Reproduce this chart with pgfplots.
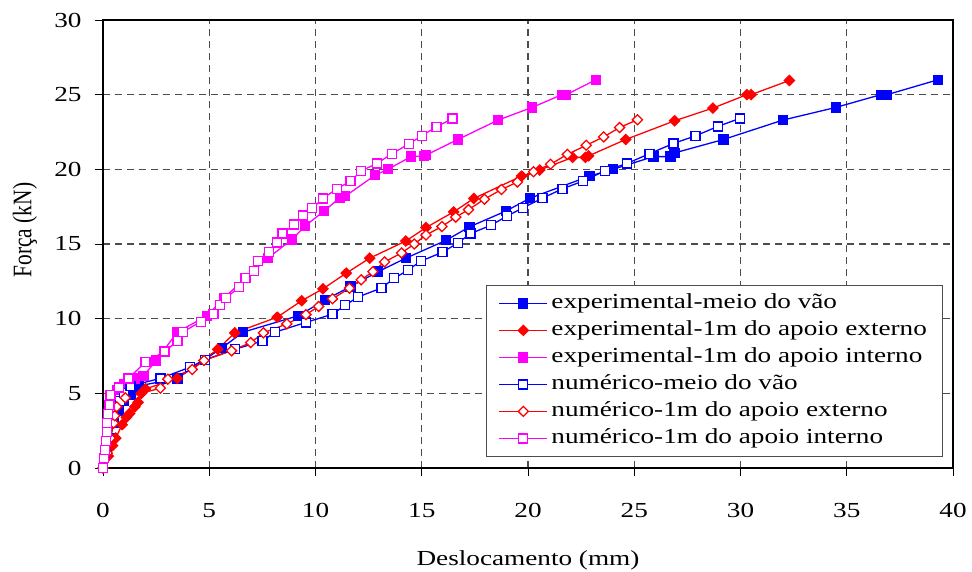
\documentclass[border=0pt]{standalone}
\usepackage{fontspec}
\setmainfont{Liberation Serif}[FakeStretch=1.27]
\newfontfamily\ylabfont{Liberation Serif}
\usepackage{pgfplots}
\pgfplotsset{compat=1.18}
\definecolor{cblue}{RGB}{0,0,255}
\definecolor{cred}{RGB}{255,0,0}
\definecolor{cmag}{RGB}{255,0,255}
\begin{document}
\begin{tikzpicture}
\begin{axis}[
  scale only axis, width=850bp, height=448bp,
  xmin=0, xmax=40, ymin=0, ymax=30,
  xtick={0,5,...,40}, ytick={0,5,...,30},
  /pgf/number format/assume math mode=true,
  tick label style={font=\fontsize{21.5}{25}\selectfont},
  xlabel style={font=\fontsize{21.5}{25}\selectfont},
  ylabel style={font=\ylabfont\fontsize{21.5}{25}\selectfont},
  xticklabel shift=24bp, yticklabel shift=10bp,
  tick align=outside, tick pos=left, major tick length=8bp,
  tick style={black, line width=0.8bp},
  axis line style={black, line width=1.2bp},
  grid=major,
  major grid style={black!70, line width=1.1bp, dash pattern=on 7bp off 5bp},
  xlabel={Deslocamento (mm)}, ylabel={Força (kN)},
  xlabel style={at={([yshift=-92bp]rel axis cs:0.5,0)}, anchor=center},
  ylabel style={at={([xshift=-78bp,yshift=14bp]rel axis cs:0,0.5)}, anchor=center, yscale=1.25},
  legend cell align=left,
  legend style={at={(axis description cs:0.988,0.4085)}, anchor=north east,
    font=\fontsize{21.5}{25}\selectfont, draw=black!70, line width=0.8bp,
    fill=white, inner xsep=12bp, inner ysep=4.5bp,
    nodes={text height=15bp, text depth=5bp, inner sep=3.5bp}},
  legend image code/.code={%
    \draw[mark repeat=2, mark phase=2] plot coordinates {(0bp,0bp) (24bp,0bp) (48bp,0bp)};},
  every axis plot/.append style={line width=1.3bp},
]
% experimental - meio do vao
\addplot[cblue, mark=square*, mark size=4.5bp, mark options={solid, fill=cblue}] coordinates {
(0,0) (0.2,1.0) (0.35,2.0) (0.5,3.0) (0.75,3.8) (1.0,4.5) (1.3,4.9) (1.5,5.3) (1.7,5.5)
(3.5,6.0) (5.6,8.05) (6.6,9.1) (9.2,10.2) (10.45,11.25) (11.65,12.15) (12.95,13.15)
(14.25,14.05) (16.15,15.25) (17.25,16.15) (18.95,17.2) (20.1,18.07) (22.9,19.55)
(24.0,20.0) (25.9,20.85) (26.7,20.85) (26.9,21.1) (29.2,22.0) (32.0,23.3) (34.5,24.15)
(36.6,25.0) (36.9,25.0) (39.3,26.0)};
\addlegendentry{experimental-meio do vão}
% experimental - 1m do apoio externo
\addplot[cred, mark=diamond*, mark size=5bp, mark options={solid, fill=cred, xscale=1.35}] coordinates {
(0,0) (0.25,0.8) (0.45,1.5) (0.6,2.0) (0.9,2.9) (1.1,3.4) (1.25,3.65) (1.5,4.1) (1.65,4.4)
(1.8,5.0) (2.0,5.3) (3.5,6.0) (5.4,7.95) (6.2,9.05) (8.2,10.1) (9.35,11.2) (10.35,12.0)
(11.45,13.05) (12.55,14.05) (14.25,15.2) (15.2,16.1) (16.5,17.15) (17.45,18.05)
(19.7,19.55) (20.55,19.95) (22.1,20.8) (22.7,20.8) (22.85,20.9) (24.6,22.0) (26.9,23.25)
(28.7,24.1) (30.3,25.0) (30.5,25.0) (32.3,25.95)};
\addlegendentry{experimental-1m do apoio externo}
% experimental - 1m do apoio interno
\addplot[cmag, mark=square*, mark size=4.5bp, mark options={solid, fill=cmag}] coordinates {
(0,0) (0.1,1.0) (0.2,2.0) (0.3,3.0) (0.45,4.2) (0.65,5.2) (1.0,5.6) (1.5,6.0) (1.9,6.15)
(2.5,7.2) (3.5,9.1) (4.9,10.2) (5.7,11.4) (7.75,14.05) (8.9,15.3) (9.5,16.2) (10.4,17.2)
(11.15,18.1) (11.4,18.2) (12.8,19.6) (13.4,20.0) (14.5,20.85) (15.1,20.9) (15.2,20.95)
(16.7,22.0) (18.6,23.3) (20.2,24.15) (21.6,25.0) (21.8,25.0) (23.2,26.0)};
\addlegendentry{experimental-1m do apoio interno}
% numerico - meio do vao
\addplot[cblue, mark=square*, mark size=4.5bp, mark options={solid, fill=white}] coordinates {
(0,0) (0.1,1.0) (0.2,2.0) (0.3,3.0) (0.5,3.8) (0.8,4.5) (1.0,5.0) (1.3,5.5) (2.7,6.0)
(4.1,6.75) (4.8,7.25) (6.2,7.95) (7.5,8.5) (8.1,9.1) (9.55,9.75) (10.8,10.3) (11.4,10.9)
(12.0,11.45) (13.1,12.05) (13.7,12.7) (14.35,13.25) (14.95,13.85) (15.98,14.45)
(16.7,15.07) (17.3,15.7) (18.25,16.25) (19.0,16.86) (19.76,17.42) (20.68,18.07)
(21.63,18.7) (22.6,19.22) (23.61,19.89) (24.67,20.4) (25.72,21.05) (26.84,21.73)
(27.88,22.24) (28.93,22.87) (29.97,23.41)};
\addlegendentry{numérico-meio do vão}
% numerico - 1m do apoio externo
\addplot[cred, mark=diamond*, mark size=5bp, mark options={solid, fill=white, xscale=1.35}] coordinates {
(0,0) (0.2,1.0) (0.35,2.0) (0.5,3.0) (0.55,3.5) (0.65,4.1) (1.05,4.7) (2.7,5.35) (3.05,5.95)
(4.2,6.6) (4.75,7.2) (6.05,7.85) (6.95,8.4) (7.55,9.05) (8.65,9.65) (9.55,10.27)
(10.15,10.82) (10.8,11.33) (11.6,12.04) (12.15,12.6) (12.7,13.15) (13.25,13.8)
(14.05,14.4) (14.65,15.0) (15.2,15.6) (15.95,16.17) (16.6,16.8) (17.2,17.3) (17.95,18.0)
(18.75,18.65) (19.5,19.15) (20.26,19.84) (21.06,20.34) (21.85,21.0) (22.74,21.61)
(23.56,22.17) (24.31,22.8) (25.15,23.32)};
\addlegendentry{numérico-1m do apoio externo}
% numerico - 1m do apoio interno
\addplot[cmag, mark=square*, mark size=4.5bp, mark options={solid, fill=white}] coordinates {
(0,0) (0.05,0.65) (0.1,1.2) (0.15,1.8) (0.2,2.4) (0.2,3.0) (0.25,3.6) (0.3,4.2) (0.35,4.9)
(0.75,5.4) (1.2,6.0) (2.0,7.1) (2.9,7.8) (3.5,8.5) (3.75,9.1) (4.6,9.8) (5.2,10.3)
(5.5,10.9) (5.8,11.4) (6.4,12.1) (6.7,12.7) (7.1,13.2) (7.3,13.85) (7.8,14.45) (8.2,15.1)
(8.45,15.7) (9.0,16.3) (9.4,16.9) (9.85,17.4) (10.35,18.05) (11.0,18.7) (11.65,19.2)
(12.15,19.9) (12.9,20.4) (13.6,21.05) (14.4,21.7) (15.0,22.25) (15.7,22.85) (16.45,23.4)};
\addlegendentry{numérico-1m do apoio interno}
\end{axis}
\pgfresetboundingbox
\path[use as bounding box] (-103bp,-104bp) rectangle (869bp,468bp);
\end{tikzpicture}
\end{document}
